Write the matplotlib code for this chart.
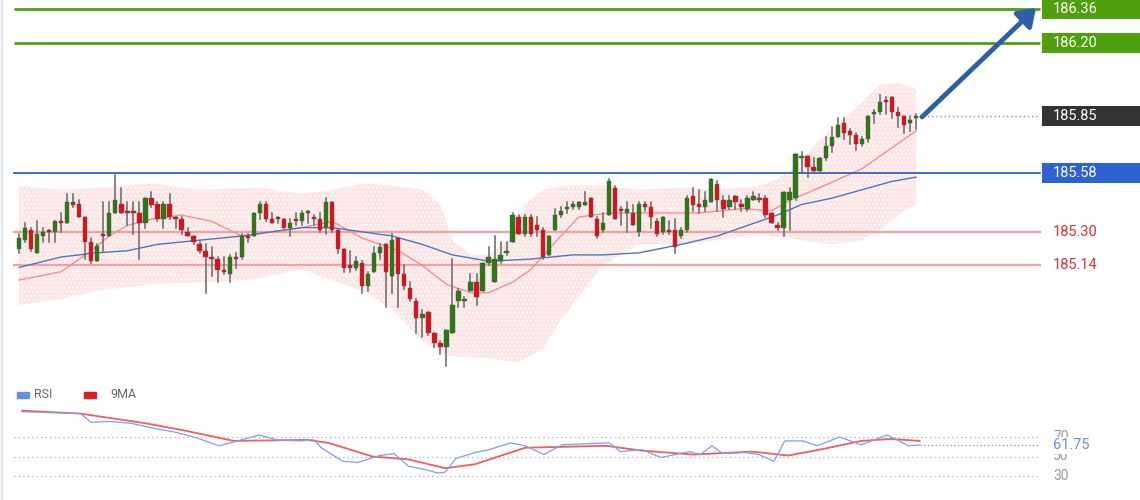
import matplotlib
matplotlib.use("Agg")
import matplotlib.pyplot as plt
from matplotlib.patches import Rectangle, FancyArrowPatch
import numpy as np

plt.rcParams['font.family'] = ['Roboto', 'DejaVu Sans']
plt.rcParams['hatch.color'] = 'white'
plt.rcParams['hatch.linewidth'] = 0.6

opens = [185.22,185.26,185.31,185.20,185.28,185.31,185.30,185.35,185.34,185.44,185.43,185.37,185.25,185.16,185.29,185.28,185.39,185.43,185.40,185.40,
185.39,185.34,185.46,185.43,185.36,185.43,185.37,185.36,185.30,185.28,185.24,185.21,185.18,185.17,185.12,185.10,185.18,185.18,185.28,185.28,
185.39,185.43,185.36,185.37,185.36,185.32,185.36,185.35,185.40,185.37,185.36,185.32,185.44,185.31,185.22,185.14,185.13,185.15,185.04,185.11,
185.20,185.24,185.09,185.27,185.10,185.03,184.97,184.89,184.92,184.82,184.77,184.75,184.82,184.97,184.97,185.02,185.06,185.02,185.15,185.06,
185.16,185.20,185.25,185.37,185.29,185.37,185.33,185.31,185.19,185.31,185.38,185.41,185.42,185.42,185.43,185.46,185.36,185.31,185.38,185.51,
185.41,185.39,185.39,185.30,185.43,185.42,185.35,185.30,185.31,185.31,185.28,185.31,185.47,185.43,185.42,185.44,185.53,185.45,185.42,185.47,
185.43,185.41,185.45,185.46,185.46,185.39,185.33,185.32,185.45,185.46,185.65,185.66,185.61,185.59,185.65,185.71,185.75,185.82,185.78,185.76,
185.72,185.74,185.86,185.87,185.93,185.94,185.87,185.85,185.82,185.84]
closes = [185.27,185.32,185.22,185.29,185.30,185.30,185.35,185.34,185.44,185.43,185.37,185.25,185.16,185.23,185.28,185.39,185.45,185.39,185.39,185.39,
185.34,185.46,185.43,185.36,185.43,185.37,185.36,185.31,185.28,185.25,185.21,185.18,185.17,185.12,185.11,185.18,185.17,185.28,185.27,185.39,
185.43,185.36,185.34,185.36,185.32,185.34,185.35,185.39,185.39,185.36,185.31,185.44,185.31,185.22,185.13,185.13,185.16,185.04,185.10,185.20,
185.23,185.11,185.26,185.10,185.04,184.98,184.89,184.91,184.82,184.77,184.75,184.83,184.95,185.02,184.98,185.06,184.99,185.15,185.18,185.17,
185.19,185.21,185.38,185.29,185.37,185.29,185.31,185.18,185.28,185.38,185.40,185.42,185.43,185.44,185.44,185.37,185.28,185.34,185.54,185.36,
185.40,185.41,185.33,185.43,185.42,185.37,185.29,185.37,185.30,185.23,185.31,185.46,185.43,185.42,185.45,185.55,185.45,185.41,185.45,185.44,
185.42,185.46,185.47,185.45,185.38,185.34,185.32,185.49,185.49,185.67,185.66,185.61,185.59,185.65,185.71,185.75,185.81,185.77,185.76,185.72,
185.74,185.85,185.87,185.92,185.92,185.87,185.85,185.81,185.83,185.85]
highs = [185.29,185.34,185.32,185.35,185.32,185.31,185.35,185.39,185.48,185.48,185.45,185.37,185.27,185.24,185.44,185.44,185.57,185.51,185.44,185.44,
185.44,185.46,185.49,185.44,185.44,185.48,185.37,185.37,185.32,185.28,185.25,185.24,185.23,185.18,185.18,185.19,185.20,185.29,185.29,185.39,
185.44,185.44,185.39,185.37,185.36,185.36,185.39,185.40,185.40,185.38,185.39,185.46,185.44,185.31,185.22,185.21,185.18,185.16,185.11,185.23,
185.24,185.24,185.29,185.27,185.14,185.06,184.98,184.93,184.92,184.82,184.78,184.83,185.17,185.03,184.99,185.10,185.10,185.15,185.23,185.28,
185.25,185.25,185.39,185.38,185.38,185.38,185.37,185.32,185.28,185.41,185.42,185.44,185.44,185.44,185.49,185.46,185.37,185.39,185.55,185.52,
185.42,185.44,185.43,185.44,185.44,185.44,185.36,185.37,185.35,185.36,185.32,185.47,185.51,185.50,185.49,185.55,185.54,185.47,185.47,185.47,
185.45,185.47,185.49,185.48,185.47,185.39,185.34,185.49,185.51,185.67,185.68,185.66,185.65,185.65,185.75,185.80,185.84,185.84,185.79,185.77,
185.75,185.85,185.88,185.95,185.94,185.94,185.89,185.85,185.85,185.86]
lows = [185.20,185.25,185.21,185.20,185.25,185.25,185.25,185.30,185.34,185.42,185.37,185.17,185.15,185.16,185.21,185.28,185.39,185.39,185.33,185.29,
185.17,185.32,185.42,185.35,185.32,185.36,185.32,185.29,185.28,185.24,185.20,185.01,185.09,185.06,185.10,185.06,185.13,185.17,185.25,185.28,
185.36,185.35,185.34,185.34,185.32,185.28,185.33,185.33,185.34,185.33,185.30,185.29,185.30,185.20,185.11,185.11,185.12,185.01,185.02,185.11,
185.17,184.94,185.01,184.94,185.03,184.97,184.82,184.80,184.81,184.75,184.72,184.66,184.82,184.94,184.94,185.02,184.95,185.02,185.14,185.06,
185.15,185.19,185.25,185.29,185.28,185.28,185.28,185.17,185.19,185.31,185.37,185.39,185.41,185.41,185.43,185.37,185.27,185.30,185.38,185.36,
185.33,185.30,185.33,185.28,185.40,185.32,185.28,185.29,185.29,185.20,185.27,185.30,185.40,185.39,185.40,185.44,185.40,185.37,185.41,185.41,
185.40,185.40,185.45,185.44,185.37,185.34,185.31,185.28,185.31,185.45,185.58,185.56,185.59,185.59,185.64,185.68,185.75,185.74,185.72,185.69,
185.71,185.73,185.82,185.86,185.86,185.84,185.80,185.77,185.78,185.79]

band_idx = [0,7,13,22,30,40,47,52,57,62,67,70,72,75,78,82,84,87,90,97,103,110,116,123,126,130,133,138,143,146,149]
band_upper = [185.52,185.50,185.51,185.53,185.50,185.51,185.48,185.50,185.53,185.52,185.50,185.43,185.26,185.19,185.19,185.28,185.43,185.50,185.52,185.52,
185.50,185.51,185.50,185.52,185.55,185.64,185.74,185.86,186.00,186.01,185.98]
low_idx = [0,7,13,22,30,38,47,52,57,62,67,71,77,83,87,90,97,103,110,116,123,130,135,140,143,147,149]
band_lower = [184.95,184.98,185.02,185.05,185.06,185.07,185.12,185.07,185.02,184.93,184.78,184.71,184.70,184.68,184.74,184.88,185.14,185.24,185.24,185.26,
185.29,185.26,185.24,185.26,185.31,185.40,185.43]
ma20_idx = [0,7,12,15,18,22,27,32,37,42,47,52,57,63,67,71,75,78,82,85,90,93,98,105,113,120,125,128,133,140,145,149]
ma20 = [185.07,185.11,185.21,185.28,185.33,185.36,185.38,185.35,185.28,185.30,185.32,185.35,185.27,185.21,185.14,185.05,185.01,185.01,185.06,185.12,
185.28,185.37,185.39,185.39,185.39,185.41,185.40,185.45,185.51,185.60,185.70,185.78]
ma50_idx = [0,7,13,18,23,30,37,42,47,52,57,62,67,72,78,85,92,97,103,110,116,121,126,130,135,140,145,149]
ma50 = [185.13,185.18,185.20,185.21,185.24,185.26,185.28,185.30,185.32,185.32,185.30,185.28,185.24,185.19,185.16,185.17,185.19,185.19,185.20,185.24,
185.28,185.33,185.38,185.43,185.46,185.50,185.54,185.56]

rsi_idx = [0.5,10.2,12,15,18.7,22.3,25.9,29.6,33.2,35.7,39.9,42.9,46.6,49,50.2,53.8,56.3,59.9,62.3,64.7,67.2,69.6,70.8,72.6,75.7,78.1,81.7,84.1,87.2,90.2,
93.8,98.1,99.9,103.5,106.6,109,111.4,113.2,115.1,116.9,120.5,122.9,125.4,127.2,130.2,132.6,136.3,139.9,144.2,147.8,149.6]
rsi = [96,94,85,86,84,79,75,69,61,65,72,67,66,67,59,45,44,51,53,40,37,33,34,48,54,57,64,61,52,62,
63,64,55,57,49,52,55,52,61,53,54,52,45,66,66,61,70,62,72,61,61.75]
rsi_ma_idx = [0.5,10.2,21.1,27.2,35.7,47.8,51.4,58.7,64.7,70.8,75.7,84.1,97.5,103.5,112,121.7,127.8,133.8,139.9,144.8,149.6]
rsi_ma = [97,94,84,77,66,67,64,50,47,38,42,59,61,56,52,55,51,58,66,68,66]

levels_green = [186.36, 186.20]
level_blue = 185.58
levels_red = [185.30, 185.14]
last_price = 185.85

W, H = 1140, 500
fig = plt.figure(figsize=(W/100, H/100), dpi=100)
fig.patch.set_facecolor('white')

sp = 6.02
x0 = 19
xl = (-x0/sp, (W - x0)/sp)
def fx(px):  # figure px -> data x
    return (px - x0)/sp

ax = fig.add_axes([0, 1-380/H, 1, 380/H])
ax.set_xlim(*xl)
ax.set_ylim(185.58 - 207/210, 185.58 + 173/210)
ax.axis('off')

xs = np.linspace(0, 149, 600)
up = np.interp(xs, band_idx, band_upper)
lo = np.interp(xs, low_idx, band_lower)
ax.fill_between(xs, lo, up, facecolor='#fde2e2', edgecolor='none', hatch='....', alpha=0.85, zorder=1)

ax.plot(ma20_idx, ma20, color='#f39090', lw=1.0, zorder=2)
ax.plot(ma50_idx, ma50, color='#4a78c0', lw=1.0, zorder=2)

for lv in levels_green:
    ax.plot([fx(14), fx(1040)], [lv, lv], color='#4ea00e', lw=2, zorder=3, solid_capstyle='butt')
ax.plot([fx(14), fx(1040)], [level_blue]*2, color='#2c63d0', lw=1.3, zorder=3)
for lv in levels_red:
    ax.plot([fx(14), fx(1040)], [lv, lv], color='#f5a0a0', lw=1.6, zorder=1.5)
ax.plot([149.5, fx(1040)], [last_price]*2, color='#888888', lw=1, ls=(0, (1, 2)), zorder=3)

for i, (o, c, h, l) in enumerate(zip(opens, closes, highs, lows)):
    ax.plot([i, i], [l, h], color='#666666', lw=1.1, zorder=4)
    col = '#2a7a12' if c >= o else '#e0101a'
    b = min(o, c); hh = max(abs(c - o), 0.006)
    ax.add_patch(Rectangle((i - 0.36, b), 0.72, hh, facecolor=col, edgecolor='#555555', lw=0.3, zorder=5))

ax.add_patch(FancyArrowPatch((fx(922), 185.58 + (173-117)/210), (fx(1036), 185.58 + (173-8)/210),
             arrowstyle='-|>,head_length=10,head_width=7', color='#2e5fa6', lw=3.5, zorder=6,
             shrinkA=0, shrinkB=0))

def box(val, col, txtcol='white'):
    ax.add_patch(Rectangle((fx(1042), val - 10/210), fx(1140)-fx(1042), 20/210, facecolor=col, edgecolor='none', zorder=6, clip_on=False))
    ax.text(fx(1053), val, f'{val:.2f}', color=txtcol, fontsize=10.5, va='center', ha='left', zorder=7)
for lv in levels_green:
    box(lv, '#4ea00e')
box(level_blue, '#2c63d0')
box(last_price, '#333333')
for lv in levels_red:
    ax.text(fx(1053), lv, f'{lv:.2f}', color='#e53030', fontsize=10.5, va='center', ha='left', zorder=7)

ax2 = fig.add_axes([0, 1-490/H, 1, 90/H])
ax2.set_xlim(*xl)
ax2.set_ylim(30 - 14/0.975, 70 + 37/0.975)
ax2.axis('off')
for lv in [70, 50, 30]:
    ax2.plot([fx(14), fx(1040)], [lv, lv], color='#9aa0b8', lw=0.8, ls=(0, (1, 3)))
    ax2.text(fx(1053), lv, str(lv), color='#999999', fontsize=10, va='center', zorder=2)
ax2.plot([149.6, fx(1040)], [61.75, 61.75], color='#6b8fe0', lw=0.9, ls=(0, (1, 2)))
ax2.text(fx(1053), 61.75, '61.75', color='#6b8fe0', fontsize=10.5, va='center', zorder=3,
         bbox=dict(boxstyle='square,pad=0.1', fc='white', ec='none'))
ax2.plot(rsi_ma_idx, rsi_ma, color='#f04040', lw=1.3, alpha=0.85)
ax2.plot(rsi_idx, rsi, color='#7da0ec', lw=0.9)

fig.add_artist(Rectangle((17/W, 1-398/H), 12/W, 6/H, color='#6b8fe0', transform=fig.transFigure))
fig.text(34/W, 1-394/H, 'RSI', fontsize=9, color='#666666', va='center')
fig.add_artist(Rectangle((84/W, 1-398/H), 12/W, 6/H, color='#e02020', transform=fig.transFigure))
fig.text(110/W, 1-394/H, '9MA', fontsize=9, color='#666666', va='center')
fig.add_artist(plt.Line2D([1.5/W, 1.5/W], [0, 1], color='#dde6f5', lw=1.5, transform=fig.transFigure))

fig.savefig('out.png', dpi=100)
